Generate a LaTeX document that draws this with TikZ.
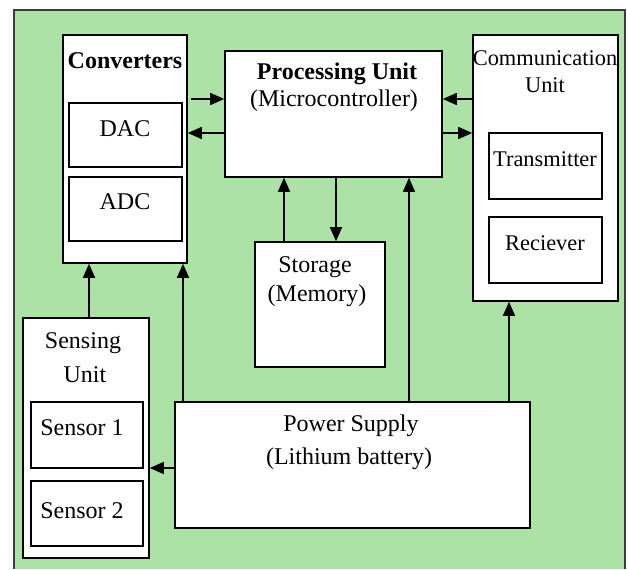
\documentclass[tikz,border=0pt]{standalone}
\usepackage{fontspec}
\setmainfont{Liberation Serif}
\usetikzlibrary{arrows.meta,fit}

\definecolor{panelgreen}{RGB}{173,226,167}
\definecolor{framegray}{RGB}{60,60,60}

\begin{document}
\begin{tikzpicture}[x=0.5pt,y=-0.5pt,
    box/.style={draw=black,line width=0.8pt,fill=white,inner sep=0pt},
    lbl/.style={font=\fontsize{12}{14}\selectfont,inner sep=0pt},
    ttl/.style={font=\fontsize{12}{14}\selectfont\bfseries,inner sep=0pt},
    arr/.style={line width=0.75pt,-{Triangle[length=7pt,width=6pt]}}]

  \useasboundingbox (0,0) rectangle (627,569);

  % background panel, open at the bottom
  \fill[panelgreen] (14,10) rectangle (625,569);
  \draw[framegray,line width=1pt] (14,569) -- (14,10) -- (625,10) -- (625,569);

  % converters
  \node[box,fit={(63,35) (187,263)}] (conv) {};
  \node[box,fit={(69,103) (182,167)}] (dac) {};
  \node[box,fit={(69,177) (182,241)}] (adc) {};
  \node[ttl] at (125,61) {Converters};
  \node[lbl] at (125,129) {DAC};
  \node[lbl] at (125,202) {ADC};

  % processing unit
  \node[box,fit={(225,51) (442,177)}] (proc) {};
  \node[ttl] at (337,74) {Processing Unit};
  \node[lbl] at (334,101) {(Microcontroller)};

  % communication unit
  \node[box,fit={(473,35) (618,301)}] (comm) {};
  \node[box,fit={(489,133) (602,199)}] (tx) {};
  \node[box,fit={(489,217) (602,283)}] (rx) {};
  \node[lbl,font=\fontsize{11.2}{14}\selectfont] at (545,58) {Communication};
  \node[lbl,font=\fontsize{11.2}{14}\selectfont] at (545,85) {Unit};
  \node[lbl,font=\fontsize{11.2}{14}\selectfont] at (545,159) {Transmitter};
  \node[lbl,font=\fontsize{11.2}{14}\selectfont] at (545,243) {Reciever};

  % storage
  \node[box,fit={(255,242) (385,367)}] (stor) {};
  \node[lbl] at (315,267) {Storage};
  \node[lbl] at (317,296) {(Memory)};

  % power supply
  \node[box,fit={(175,402) (530,528)}] (pwr) {};
  \node[lbl] at (351,426) {Power Supply};
  \node[lbl] at (349,459) {(Lithium battery)};

  % sensing unit
  \node[box,fit={(23,318) (149,558)}] (sens) {};
  \node[box,fit={(31,402) (143,468)}] (s1) {};
  \node[box,fit={(31,481) (143,546)}] (s2) {};
  \node[lbl] at (83,343) {Sensing};
  \node[lbl] at (85,375) {Unit};
  \node[lbl] at (82,428) {Sensor 1};
  \node[lbl] at (82,511) {Sensor 2};

  % connector rows and columns
  \coordinate (rowA) at (0,99);
  \coordinate (rowB) at (0,133);
  \coordinate (rowP) at (0,468);
  \coordinate (colS) at (89,0);
  \coordinate (colC) at (183,0);
  \coordinate (colM1) at (284,0);
  \coordinate (colM2) at (336,0);
  \coordinate (colP) at (409,0);
  \coordinate (colR) at (509,0);
  \coordinate (convout) at (191,99);

  % converters <-> processing
  \draw[arr] (convout) -- (proc.west |- rowA);
  \draw[arr] (proc.west |- rowB) -- (conv.east |- rowB);
  % communication <-> processing
  \draw[arr] (comm.west |- rowA) -- (proc.east |- rowA);
  \draw[arr] (proc.east |- rowB) -- (comm.west |- rowB);
  % storage <-> processing
  \draw[arr] (stor.north -| colM1) -- (proc.south -| colM1);
  \draw[arr] (proc.south -| colM2) -- (stor.north -| colM2);
  % sensing -> converters
  \draw[arr] (sens.north -| colS) -- (conv.south -| colS);
  % power distribution
  \draw[arr] (pwr.north -| colC) -- (conv.south -| colC);
  \draw[arr] (pwr.north -| colP) -- (proc.south -| colP);
  \draw[arr] (pwr.north -| colR) -- (comm.south -| colR);
  \draw[arr] (pwr.west |- rowP) -- (sens.east |- rowP);
\end{tikzpicture}
\end{document}
